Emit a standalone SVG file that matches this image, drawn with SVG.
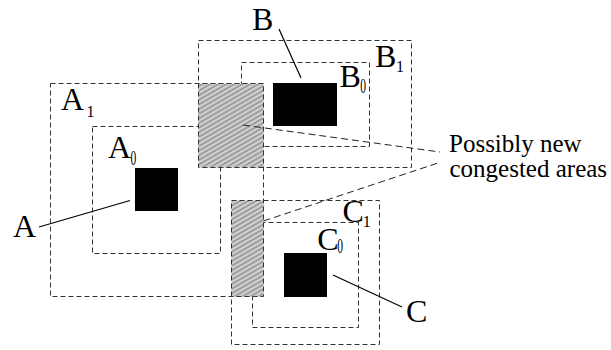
<svg xmlns="http://www.w3.org/2000/svg" width="611" height="350" viewBox="0 0 611 350">
  <style>
    .box { fill: none; stroke: #333; stroke-width: 1; stroke-dasharray: 5 3; }
    .cell { fill: #000; }
    .hatch { fill: url(#hatch); }
    .lead { stroke: #000; stroke-width: 1.2; fill: none; }
    .hint { stroke: #222; stroke-width: 1; fill: none; stroke-dasharray: 7 4; }
    text { font-family: "Liberation Serif", "Times New Roman", serif; fill: #000; }
    .big { font-size: 32px; }
    .sub { font-size: 16px; }
    .note { font-size: 25px; }
  </style>
  <defs>
    <pattern id="hatch" patternUnits="userSpaceOnUse" width="4" height="4" patternTransform="rotate(-30)">
      <rect width="4" height="4" fill="#d2d2d2"/>
      <line x1="0" y1="2" x2="4" y2="2" stroke="#6a6a6a" stroke-width="1"/>
    </pattern>
  </defs>

  <!-- inner regions (partly hidden by the overlap areas) -->
  <g id="A0"><rect class="box" x="92.5" y="126.5" width="128" height="127"/></g>
  <g id="B0"><rect class="box" x="241.5" y="62.5" width="128" height="84"/></g>
  <g id="C0"><rect class="box" x="252.5" y="222.5" width="106" height="105"/></g>

  <!-- overlap areas -->
  <g id="overlapAB"><rect class="hatch" x="198.5" y="83.5" width="65" height="84"/></g>
  <g id="overlapAC"><rect class="hatch" x="231.5" y="200.5" width="32" height="96"/></g>

  <!-- outer regions -->
  <g id="A1"><rect class="box" x="50.5" y="83.5" width="213" height="213"/></g>
  <g id="B1"><rect class="box" x="198.5" y="40.5" width="213" height="127"/></g>
  <g id="C1"><rect class="box" x="231.5" y="200.5" width="148" height="144"/></g>

  <!-- cells -->
  <g id="cellA"><rect class="cell" x="135" y="168" width="43" height="43"/></g>
  <g id="cellB"><rect class="cell" x="273" y="83" width="64" height="43"/></g>
  <g id="cellC"><rect class="cell" x="284" y="253" width="43" height="44"/></g>

  <!-- labels -->
  <g id="labelA"><text class="big" x="13" y="237">A</text></g>
  <g id="labelA1"><text class="big" x="61" y="109.5">A</text><text class="sub" x="86.5" y="116.5">1</text></g>
  <g id="labelA0"><text class="big" x="108" y="157.5">A</text><text class="sub" transform="translate(130.5 165) scale(0.72 1.25)">0</text></g>
  <g id="labelB"><text class="big" x="252" y="30">B</text></g>
  <g id="labelB1"><text class="big" x="375" y="66.5">B</text><text class="sub" x="396" y="72.3">1</text></g>
  <g id="labelB0"><text class="big" x="339.5" y="86.7">B</text><text class="sub" transform="translate(360.2 92.7) scale(0.72 1.25)">0</text></g>
  <g id="labelC"><text class="big" x="406" y="321.7">C</text></g>
  <g id="labelC1"><text class="big" x="342.5" y="221.7">C</text><text class="sub" x="362.8" y="226.7">1</text></g>
  <g id="labelC0"><text class="big" x="317.3" y="250">C</text><text class="sub" transform="translate(337.3 253.3) scale(0.72 1.25)">0</text></g>
  <g id="note"><text class="note" x="449" y="152">Possibly new</text><text class="note" x="449.5" y="176.5">congested areas</text></g>

  <!-- connectors -->
  <g id="connectors">
    <line class="lead" x1="39" y1="227" x2="130" y2="200.5"/>
    <line class="lead" x1="279" y1="29" x2="301" y2="78"/>
    <line class="lead" x1="333" y1="275" x2="402" y2="307"/>
    <line class="hint" x1="243" y1="125" x2="440" y2="152"/>
    <line class="hint" x1="263.5" y1="221" x2="438" y2="163"/>
  </g>
</svg>
